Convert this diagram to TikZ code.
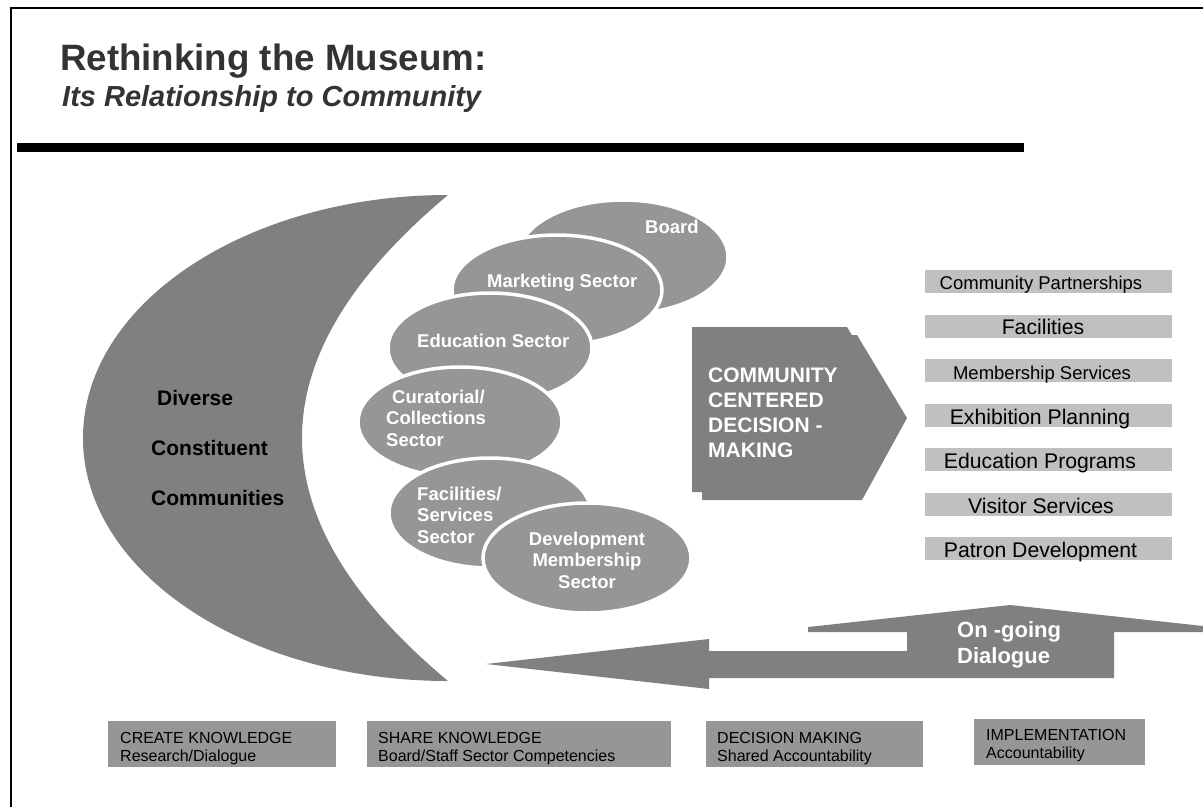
\documentclass[tikz,border=0pt]{standalone}
\usepackage{fontspec}
\setmainfont{Liberation Sans}
\usetikzlibrary{shapes.geometric}
\definecolor{darkg}{HTML}{808080}
\definecolor{midg}{HTML}{969696}
\definecolor{lightg}{HTML}{C0C0C0}
\definecolor{titleg}{HTML}{333333}
\newcommand{\fsz}[2]{\fontsize{#1}{#2}\selectfont}
\newcommand{\lstack}[1]{\begin{tabular}[t]{@{}l@{}}#1\end{tabular}}
\newcommand{\cstack}[1]{\begin{tabular}[t]{@{}c@{}}#1\end{tabular}}
\begin{document}
\begin{tikzpicture}[x=1pt,y=-1pt,
  sector/.style={ellipse, fill=midg, draw=white, line width=3.5pt, inner sep=0pt},
  sectortxt/.style={text=white, font=\fsz{18.5}{21.5}\bfseries, inner sep=0pt, anchor=base west},
  rbox/.style={fill=lightg, minimum width=247pt, minimum height=23pt, inner sep=0pt},
  rtxtA/.style={font=\fsz{18.5}{22}, inner sep=0pt, anchor=base, text=black},
  rtxtB/.style={font=\fsz{21.2}{25}, inner sep=0pt, anchor=base, text=black},
  bbox/.style={fill=midg, inner sep=0pt, anchor=north west, minimum height=46pt},
  btxt/.style={font=\fsz{16}{18}, inner sep=0pt, anchor=base west, text=black},
]
\useasboundingbox (0,0) rectangle (1203,807);
\fill[white] (0,0) rectangle (1203,807);
% frame
\draw[line width=1.5pt] (11,807) -- (11,8) -- (1203,8);
% title
\node[anchor=base west, inner sep=0pt, text=titleg, font=\fsz{36.7}{44}\bfseries] (title) at (60,70) {Rethinking the Museum:};
\node[anchor=base west, inner sep=0pt, text=titleg, font=\fsz{29}{34}\bfseries\itshape] (subtitle) at (62,106) {Its Relationship to Community};
\fill[black] (17,143) rectangle (1024,152);
% crescent
\fill[darkg] (448,195) arc[start angle=270, end angle=90, x radius=365, y radius=243]
  .. controls (351,600) and (302,519) .. (302,438)
  .. controls (302,357) and (351,276) .. (448,195) -- cycle;
\node[anchor=base west, inner sep=0pt, font=\fsz{21}{50}\bfseries, text=black] (diverse) at (151,405)
  {\lstack{\hspace*{6pt}Diverse\\Constituent\\Communities}};
% sector ellipses
\node[sector, minimum width=210pt, minimum height=114pt] (board) at (623,257) {};
\node[sector, minimum width=210pt, minimum height=110pt] (marketing) at (557,290) {};
\node[sector, minimum width=204pt, minimum height=110pt] (education) at (490,348) {};
\node[sector, minimum width=204pt, minimum height=110pt] (curatorial) at (460,422) {};
\node[sector, minimum width=202pt, minimum height=110pt] (facilities) at (490,513) {};
\node[sector, minimum width=208pt, minimum height=110pt] (development) at (587,558) {};
\node[sectortxt] (boardtxt) at (645,233) {Board};
\node[sectortxt] (marketingtxt) at (487,287) {Marketing Sector};
\node[sectortxt] (educationtxt) at (417,347) {Education Sector};
\node[sectortxt] (curatorialtxt) at (386,403) {\lstack{\hspace*{6pt}Curatorial/\\Collections\\Sector}};
\node[sectortxt] (facilitiestxt) at (417,500) {\lstack{Facilities/\\Services\\Sector}};
\node[sectortxt, anchor=base] (developmenttxt) at (587,545) {\cstack{Development\\Membership\\Sector}};
% pentagon arrow with shadow
\fill[darkg] (702,335) -- (857,335) -- (907,418) -- (862,500) -- (702,500) -- cycle;
\fill[darkg] (692,327) -- (847,327) -- (897,410) -- (852,492) -- (692,492) -- cycle;
\node[anchor=base west, inner sep=0pt, font=\fsz{21}{25}\bfseries, text=white] (ccdm) at (708,382)
  {\lstack{COMMUNITY\\CENTERED\\DECISION -\\MAKING}};
% right boxes
\node[rbox] (r1) at (1048.5,281.5) {};
\node[rbox] (r2) at (1048.5,326) {};
\node[rbox] (r3) at (1048.5,370.5) {};
\node[rbox] (r4) at (1048.5,415) {};
\node[rbox] (r5) at (1048.5,459.5) {};
\node[rbox] (r6) at (1048.5,504) {};
\node[rbox] (r7) at (1048.5,548.5) {};
\node[rtxtA] (t1) at (1041,289.8) {Community Partnerships};
\node[rtxtB] (t2) at (1043,334.8) {Facilities};
\node[rtxtA] (t3) at (1042,379.3) {Membership Services};
\node[rtxtB] (t4) at (1040,424) {Exhibition Planning};
\node[rtxtB] (t5) at (1040,468.3) {Education Programs};
\node[rtxtB] (t6) at (1041,513) {Visitor Services};
\node[rtxtB] (t7) at (1040.5,557) {Patron Development};
% dialogue arrow
\fill[darkg] (486,664) -- (709,639) -- (709,651) -- (907,651) -- (907,632) -- (808,632) -- (808,627)
  -- (1010,605) -- (1212,627) -- (1212,632) -- (1114,632) -- (1114,678) -- (709,678) -- (709,689) -- cycle;
\node[anchor=base west, inner sep=0pt, font=\fsz{22}{26}\bfseries, text=white] (dialogue) at (957,637)
  {\lstack{On -going\\Dialogue}};
% bottom boxes
\node[bbox, minimum width=228pt] (b1) at (108,721) {};
\node[bbox, minimum width=304pt] (b2) at (367,721) {};
\node[bbox, minimum width=217pt] (b3) at (706,721) {};
\node[bbox, minimum width=171pt] (b4) at (974,719) {};
\node[btxt] (bt1) at (120,743) {\lstack{CREATE KNOWLEDGE\\Research/Dialogue}};
\node[btxt] (bt2) at (378,743) {\lstack{SHARE KNOWLEDGE\\Board/Staff Sector Competencies}};
\node[btxt] (bt3) at (717,743) {\lstack{DECISION MAKING\\Shared Accountability}};
\node[btxt] (bt4) at (986,740) {\lstack{IMPLEMENTATION\\Accountability}};
\end{tikzpicture}
\end{document}
